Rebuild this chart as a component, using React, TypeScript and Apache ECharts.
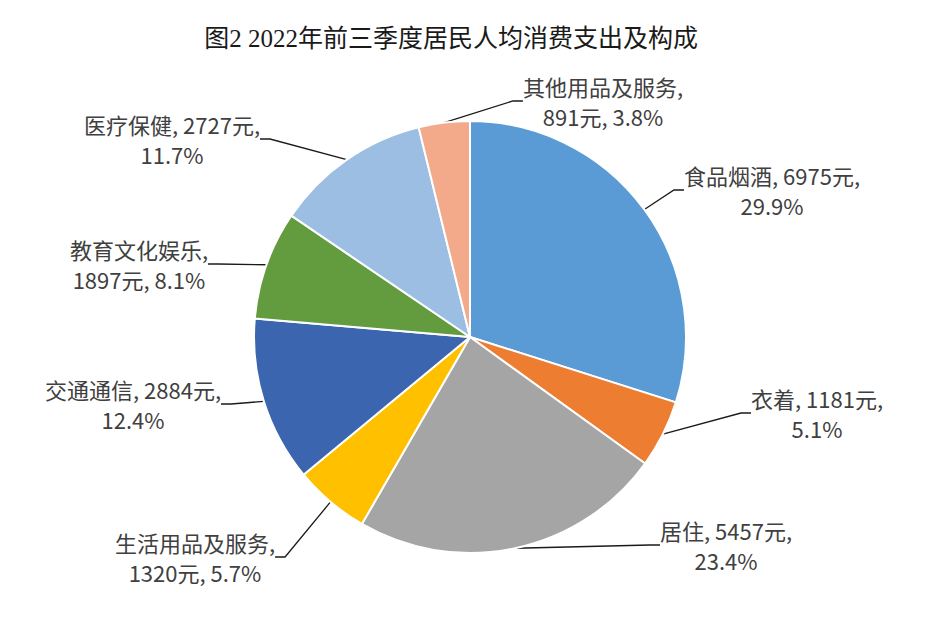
import React, { useEffect, useRef } from "react";
import * as echarts from "echarts";

const titleText = "图2 2022年前三季度居民人均消费支出及构成";
const categories = ["食品烟酒", "衣着", "居住", "生活用品及服务", "交通通信", "教育文化娱乐", "医疗保健", "其他用品及服务"];
const values = [6975, 1181, 5457, 1320, 2884, 1897, 2727, 891];
const percents = ["29.9%", "5.1%", "23.4%", "5.7%", "12.4%", "8.1%", "11.7%", "3.8%"];

const colors = ["#5B9BD5", "#ED7D31", "#A5A5A5", "#FFC000", "#3C65AF", "#629C3F", "#9DBEE3", "#F2AA8B"];
// label centres within the chart div (page coords minus 8px body margin)
const labelCenters = [
  [764, 182],
  [809, 405],
  [718, 537],
  [187, 549],
  [125, 396],
  [131, 256],
  [164, 131],
  [595, 93],
];

export default function App() {
  const ref = useRef<HTMLDivElement>(null);
  useEffect(() => {
    const chart = echarts.init(ref.current!, undefined, { renderer: "svg" });
    const font = "'Noto Sans CJK SC', 'Liberation Serif', serif";
    chart.setOption({
      animation: false,
      backgroundColor: "#ffffff",
      title: {
        text: titleText,
        left: 438,
        top: 13,
        textAlign: "center",
        textStyle: { fontFamily: "'Liberation Serif', 'Noto Sans CJK SC', serif", fontSize: 25, fontWeight: "normal", color: "#1a1a1a" },
      },
      series: [
        {
          type: "pie",
          center: [462, 329],
          radius: 216,
          startAngle: 90,
          clockwise: true,
          avoidLabelOverlap: false,
          itemStyle: { borderColor: "#ffffff", borderWidth: 2 },
          data: categories.map((name, i) => ({
            name,
            value: values[i],
            itemStyle: { color: colors[i] },
          })),
          label: {
            show: true,
            position: "outside",
            fontFamily: font,
            fontSize: 22,
            lineHeight: 30,
            color: "#404040",
            align: "center",
            formatter: (p: any) => {
              const i = p.dataIndex;
              const name = categories[i];
              if (name.length >= 6) return `${name},\n${values[i]}元, ${percents[i]}`;
              return `${name}, ${values[i]}元,\n${percents[i]}`;
            },
          },
          labelLine: {
            show: true,
            length: 15,
            length2: 10,
            lineStyle: { color: "#1a1a1a", width: 1.3 },
          },
          labelLayout: (params: any) => {
            const c = labelCenters[params.dataIndex];
            return { x: c[0], y: c[1], align: "center", verticalAlign: "middle" };
          },
        },
      ],
    });
    return () => chart.dispose();
  }, []);
  return <div ref={ref} style={{ width: 925, height: 601 }} />;
}
